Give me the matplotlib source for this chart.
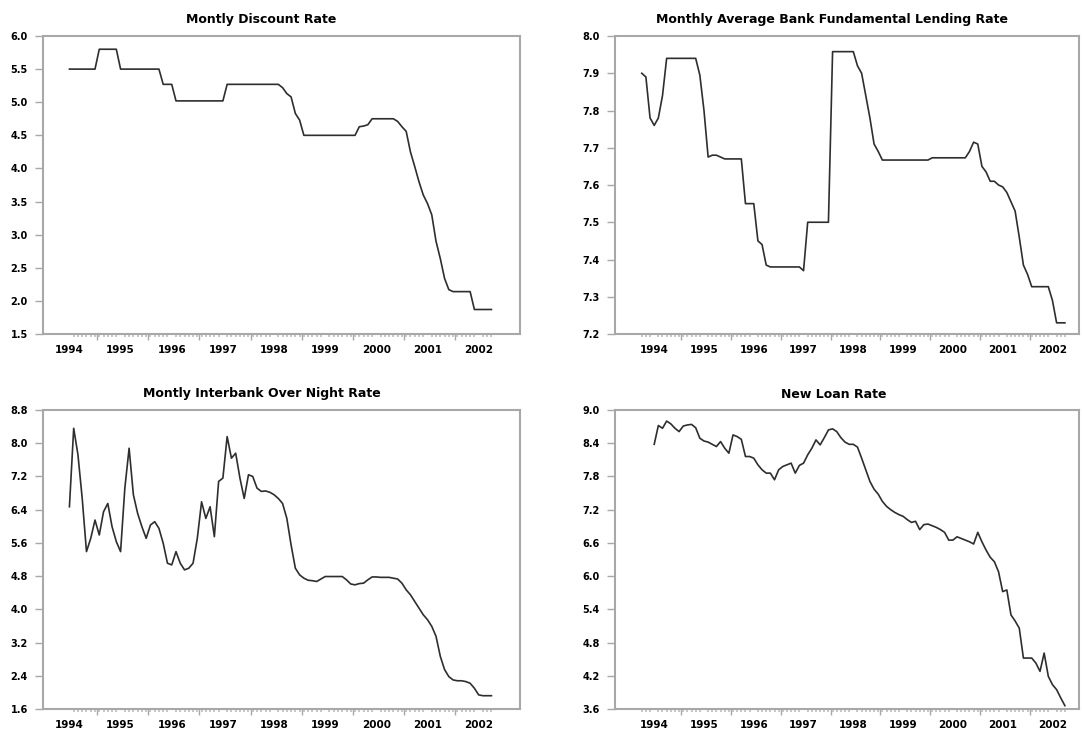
import numpy as np
import matplotlib.pyplot as plt

W, H = 1082, 731

# --- data (monthly) ---
years = ["1994", "1995", "1996", "1997", "1998", "1999", "2000", "2001", "2002"]

# Jan 1994 .. Apr 2002
discount_rate = [
    5.5, 5.5, 5.5, 5.5, 5.5, 5.5, 5.5, 5.8, 5.8, 5.8, 5.8, 5.8,
    5.5, 5.5, 5.5, 5.5, 5.5, 5.5, 5.5, 5.5, 5.5, 5.5, 5.27, 5.27,
    5.27, 5.02, 5.02, 5.02, 5.02, 5.02, 5.02, 5.02, 5.02, 5.02, 5.02, 5.02,
    5.02, 5.27, 5.27, 5.27, 5.27, 5.27, 5.27, 5.27, 5.27, 5.27, 5.27, 5.27,
    5.27, 5.27, 5.22, 5.13, 5.08, 4.83, 4.73, 4.5, 4.5, 4.5, 4.5, 4.5,
    4.5, 4.5, 4.5, 4.5, 4.5, 4.5, 4.5, 4.5, 4.63, 4.64, 4.66, 4.75,
    4.75, 4.75, 4.75, 4.75, 4.75, 4.71, 4.63, 4.56, 4.25, 4.03, 3.8, 3.6,
    3.47, 3.3, 2.9, 2.64, 2.34, 2.17, 2.14, 2.14, 2.14, 2.14, 2.14, 1.87,
    1.87, 1.87, 1.87, 1.87,
]

interbank_rate = [
    6.47, 8.36, 7.72, 6.67, 5.39, 5.71, 6.15, 5.79, 6.35, 6.55, 5.99, 5.63,
    5.39, 6.92, 7.88, 6.76, 6.31, 5.99, 5.71, 6.03, 6.11, 5.95, 5.59, 5.11,
    5.07, 5.39, 5.11, 4.95, 4.99, 5.11, 5.71, 6.59, 6.19, 6.47, 5.75, 7.08,
    7.16, 8.16, 7.64, 7.76, 7.16, 6.67, 7.24, 7.2, 6.92, 6.84, 6.85, 6.82,
    6.76, 6.67, 6.55, 6.19, 5.55, 4.99, 4.83, 4.75, 4.70, 4.69, 4.67, 4.73,
    4.79, 4.79, 4.79, 4.79, 4.79, 4.71, 4.61, 4.59, 4.62, 4.63, 4.71, 4.78,
    4.78, 4.77, 4.77, 4.77, 4.75, 4.73, 4.63, 4.47, 4.35, 4.19, 4.03, 3.87,
    3.75, 3.59, 3.35, 2.87, 2.55, 2.38, 2.30, 2.28, 2.28, 2.26, 2.22, 2.10,
    1.94, 1.92, 1.92, 1.92,
]

# Oct 1993 .. Apr 2002
lending_rate = [
    7.90, 7.89, 7.78, 7.76, 7.78, 7.84, 7.94, 7.94, 7.94, 7.94, 7.94, 7.94,
    7.94, 7.94, 7.895, 7.80, 7.675, 7.68, 7.68, 7.675, 7.67, 7.67, 7.67, 7.67,
    7.67, 7.55, 7.55, 7.55, 7.45, 7.44, 7.385, 7.38, 7.38, 7.38, 7.38, 7.38,
    7.38, 7.38, 7.38, 7.37, 7.50, 7.50, 7.50, 7.50, 7.50, 7.50, 7.958, 7.958,
    7.958, 7.958, 7.958, 7.958, 7.92, 7.90, 7.84, 7.78, 7.71, 7.69, 7.667, 7.667,
    7.667, 7.667, 7.667, 7.667, 7.667, 7.667, 7.667, 7.667, 7.667, 7.667, 7.673, 7.673,
    7.673, 7.673, 7.673, 7.673, 7.673, 7.673, 7.673, 7.69, 7.715, 7.71, 7.65, 7.635,
    7.61, 7.61, 7.60, 7.595, 7.58, 7.555, 7.53, 7.46, 7.385, 7.36, 7.327, 7.327,
    7.327, 7.327, 7.327, 7.29, 7.23, 7.23, 7.23,
]

# Jan 1994 .. Apr 2002 (placed on the Oct 1993 axis)
new_loan_rate = [
    8.38, 8.72, 8.67, 8.80, 8.75, 8.67, 8.61, 8.71, 8.73, 8.74, 8.68, 8.49,
    8.44, 8.42, 8.38, 8.34, 8.43, 8.31, 8.22, 8.55, 8.52, 8.47, 8.16, 8.16,
    8.13, 8.01, 7.92, 7.86, 7.86, 7.74, 7.92, 7.98, 8.01, 8.04, 7.86, 8.0,
    8.04, 8.19, 8.31, 8.46, 8.37, 8.50, 8.64, 8.66, 8.61, 8.50, 8.42, 8.38,
    8.38, 8.33, 8.13, 7.92, 7.71, 7.57, 7.48, 7.35, 7.26, 7.20, 7.15, 7.11,
    7.08, 7.02, 6.97, 6.99, 6.84, 6.93, 6.94, 6.91, 6.88, 6.84, 6.79, 6.65,
    6.65, 6.71, 6.68, 6.65, 6.62, 6.58, 6.79, 6.62, 6.47, 6.34, 6.26, 6.08,
    5.72, 5.75, 5.30, 5.19, 5.06, 4.52, 4.52, 4.52, 4.43, 4.28, 4.61, 4.19,
    4.04, 3.95, 3.80, 3.66,
]

GREY = "#a8a8a8"
LINE = "#2e2e2e"


def px_rect(l, t, r, b):
    return [l / W, 1 - b / H, (r - l) / W, (b - t) / H]


def style_panel(ax, x, y, first_label, xlim, ylim, yticks, n_total):
    ax.plot(x, y, color=LINE, lw=1.2)
    ax.set_xlim(*xlim)
    ax.set_ylim(*ylim)
    for s in ax.spines.values():
        s.set_color(GREY)
        s.set_linewidth(1.5)
    ax.set_yticks(yticks)
    ax.set_yticklabels([f"{v:.1f}" for v in yticks])
    ax.tick_params(axis="y", length=6, width=1, color=GREY, pad=5,
                   labelsize=7, direction="out")
    # year labels (no tick mark), month minor ticks
    lab_pos = [first_label + 12 * k for k in range(len(years))]
    ax.set_xticks(lab_pos)
    ax.set_xticklabels(years)
    ax.tick_params(axis="x", which="major", length=0, pad=8, labelsize=7.5)
    ax.set_xticks(np.arange(n_total), minor=True)
    ax.tick_params(axis="x", which="minor", length=2.5, width=1.2, color="#bdbdbd")
    for t in ax.get_xticklabels() + ax.get_yticklabels():
        t.set_fontweight("bold")
    # mid-year division ticks
    sec = ax.secondary_xaxis("bottom")
    sec.set_xticks([first_label + 6.5 + 12 * k for k in range(8)])
    sec.tick_params(length=4, width=1, color=GREY, labelbottom=False)
    sec.spines["bottom"].set_visible(False)


fig = plt.figure(figsize=(W / 100, H / 100), dpi=100)

# top-left
ax1 = fig.add_axes(px_rect(43, 36, 520, 334))
x1 = np.arange(len(discount_rate))
style_panel(ax1, x1, discount_rate, 0, (-6.2, 105.7), (1.5, 6.0),
            np.arange(1.5, 6.01, 0.5), len(discount_rate))

# top-right
ax2 = fig.add_axes(px_rect(615, 36, 1079, 334))
x2 = np.arange(len(lending_rate))
style_panel(ax2, x2, lending_rate, 3, (-6.45, 105.4), (7.2, 8.0),
            np.arange(7.2, 8.001, 0.1), len(lending_rate))

# bottom-left
ax3 = fig.add_axes(px_rect(43, 410, 520, 709))
x3 = np.arange(len(interbank_rate))
style_panel(ax3, x3, interbank_rate, 0, (-6.2, 105.7), (1.6, 8.8),
            np.arange(1.6, 8.81, 0.8), len(interbank_rate))

# bottom-right
ax4 = fig.add_axes(px_rect(615, 410, 1079, 709))
x4 = np.arange(3, 3 + len(new_loan_rate))
style_panel(ax4, x4, new_loan_rate, 3, (-6.45, 105.4), (3.6, 9.0),
            np.arange(3.6, 9.01, 0.6), len(lending_rate))

titles = [
    ("Montly Discount Rate", 261, 20),
    ("Monthly Average Bank Fundamental Lending Rate", 832, 20),
    ("Montly Interbank Over Night Rate", 262, 394),
    ("New Loan Rate", 834, 394),
]
for txt, cx, cy in titles:
    fig.text(cx / W, 1 - cy / H, txt, ha="center", va="center",
             fontsize=9, fontweight="bold")

fig.savefig("out.png", dpi=100)
